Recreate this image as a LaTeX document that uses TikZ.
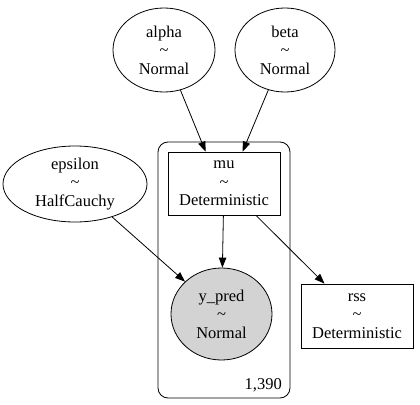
\documentclass[tikz,border=0pt]{standalone}
\usepackage{fontspec}
\setmainfont{Liberation Serif}
\usetikzlibrary{shapes.geometric,arrows.meta,calc}
\begin{document}
\begin{tikzpicture}[x=1pt,y=-1pt,
  every node/.style={font=\fontsize{16.5}{18.5}\selectfont, align=center, inner sep=0pt},
  rv/.style={ellipse, draw, line width=0.8pt},
  det/.style={rectangle, draw, line width=0.8pt},
  edge/.style={line width=0.8pt, -{Triangle[length=10pt,width=7.5pt]}}]
\useasboundingbox[fill=white] (0,0) rectangle (420,404);
\draw[line width=0.8pt, rounded corners=10pt] (158,142) rectangle (290,398);
\node[anchor=base east] (plate) at (282,389) {1,390};
\node[rv, minimum width=102pt, minimum height=84pt] (alpha) at (164,50) {alpha\\\textasciitilde\\Normal};
\node[rv, minimum width=100pt, minimum height=84pt] (beta) at (285,50) {beta\\\textasciitilde\\Normal};
\node[rv, minimum width=144pt, minimum height=76pt] (eps) at (75,184) {epsilon\\\textasciitilde\\HalfCauchy};
\node[det, minimum width=112pt, minimum height=63pt] (mu) at (224,183.5) {mu\\\textasciitilde\\Deterministic};
\node[rv, fill={rgb,255:red,211;green,211;blue,211}, minimum width=101pt, minimum height=92pt] (ypred) at (221.5,314) {y\_pred\\\textasciitilde\\Normal};
\node[det, minimum width=112pt, minimum height=64pt] (rss) at (357,316) {rss\\\textasciitilde\\Deterministic};
\coordinate (a1) at ($(mu.north west)+(38,0)$);
\coordinate (b1) at ($(mu.north west)+(75,0)$);
\draw[edge] (alpha) -- (a1);
\draw[edge] (beta) -- (b1);
\draw[edge] (eps) -- (ypred);
\draw[edge] (mu) -- (ypred);
\draw[edge] (mu) -- (rss);
\end{tikzpicture}
\end{document}
